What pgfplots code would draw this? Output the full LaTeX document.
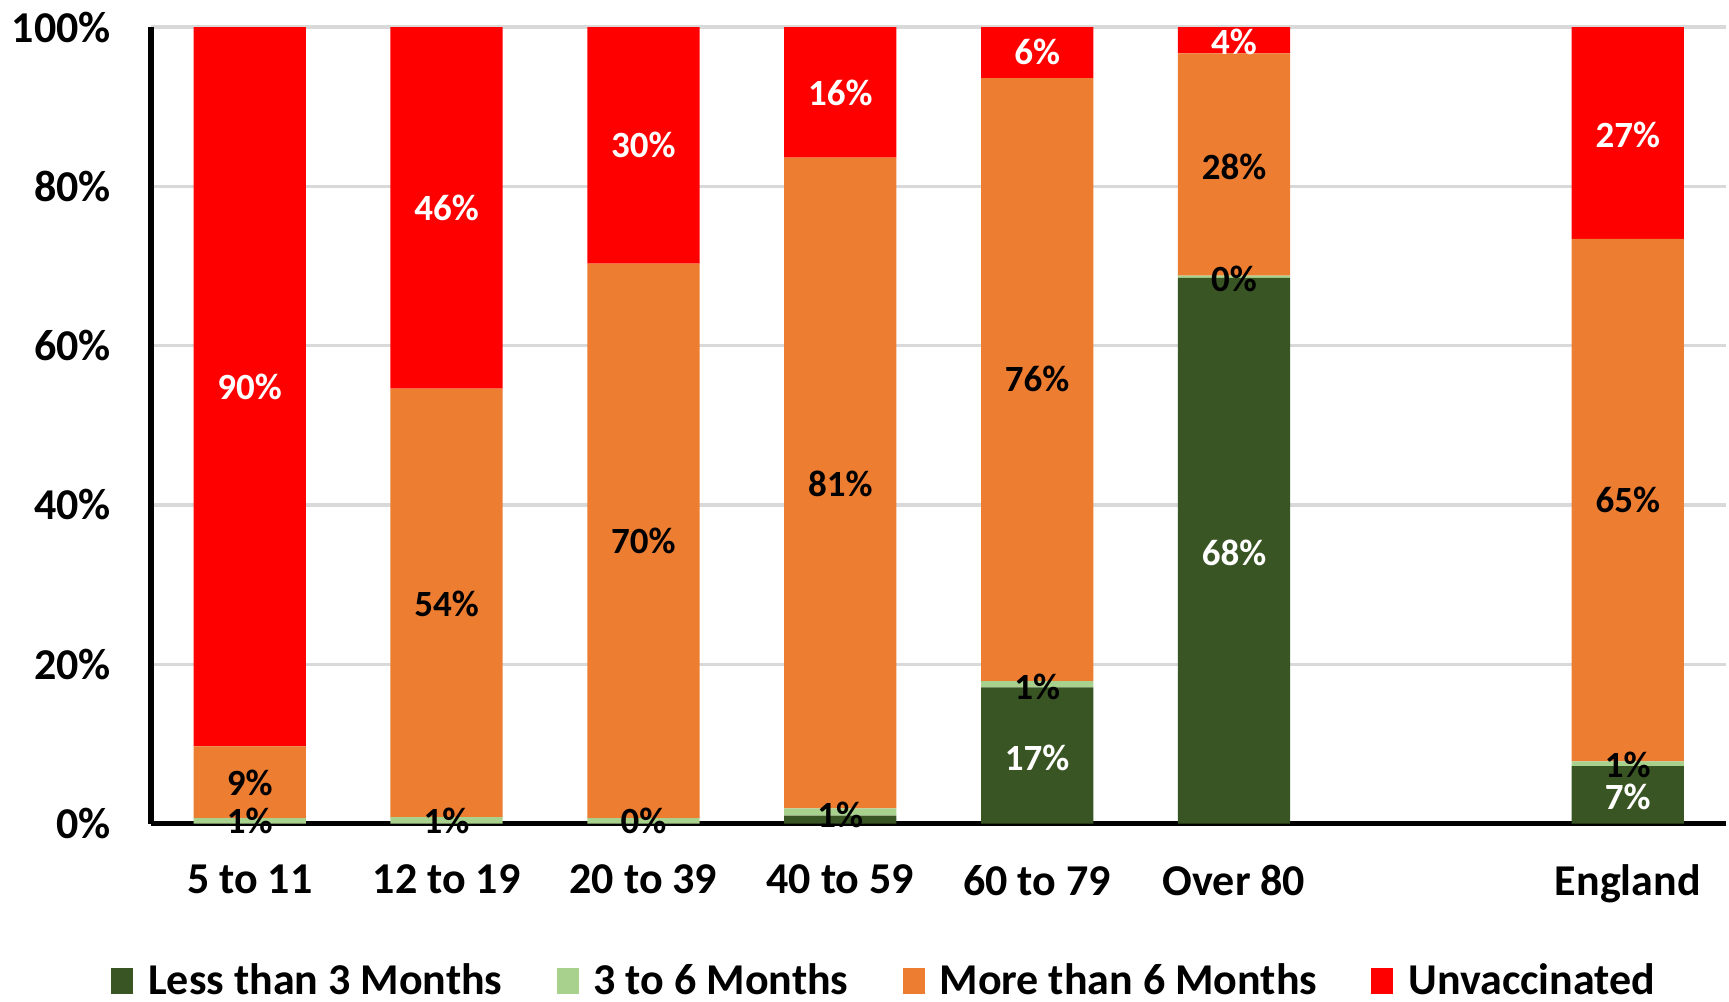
\documentclass[border=0pt]{standalone}
\usepackage{pgfplots}
\pgfplotsset{compat=1.18}
\usepackage{pgfplotstable}
\usepackage{fontspec}
\setmainfont{Carlito}
\definecolor{dg}{HTML}{3A5524}
\definecolor{lg}{HTML}{A9D18E}
\definecolor{or}{HTML}{ED7D31}
\definecolor{rd}{HTML}{FF0000}

% x: 0..5 age groups, 7 = England
\pgfplotstableread{
x y
0 0.0
1 0.0
2 0.0
3 1.0
4 17.1
5 68.5
7 7.2
}\dgdata
\pgfplotstableread{
x y
0 0.7
1 0.8
2 0.7
3 0.9
4 0.8
5 0.3
7 0.6
}\lgdata
\pgfplotstableread{
x y
0 9.0
1 53.8
2 69.6
3 81.7
4 75.7
5 27.9
7 65.6
}\ordata
\pgfplotstableread{
x y
0 90.3
1 45.4
2 29.7
3 16.4
4 6.4
5 3.3
7 26.6
}\rddata

\begin{document}
\begin{tikzpicture}
\pgfplotsset{
  common/.style={
    width=15.72cm, height=7.95cm, scale only axis,
    xmin=-0.5, xmax=7.5, ymin=0, ymax=100,
  }
}
\begin{axis}[common,
  ybar stacked, bar width=0.57,
  axis lines=left,
  axis line style={-, line width=1.6pt, black},
  xtick={0,1,2,3,4,5,7},
  xticklabels={5 to 11,12 to 19,20 to 39,40 to 59,60 to 79,Over 80,England},
  ytick={0,20,40,60,80,100},
  yticklabel={\pgfmathprintnumber{\tick}\%},
  /pgf/number format/assume math mode=true,
  major tick length=0pt,
  ymajorgrids, grid style={black!15, line width=0.9pt},
  tick label style={font=\fontsize{12.5}{15}\selectfont\bfseries},
  xticklabel style={yshift=-0.29cm},
  yticklabel style={xshift=-0.28cm},
  legend style={at={(0.467,-0.198)}, anchor=center, draw=none,
    inner sep=0pt, outer sep=0pt,
    nodes={inner ysep=0.5pt},
    legend columns=4, font=\fontsize{12.5}{15}\selectfont\bfseries,
    /tikz/every odd column/.append style={column sep=0.08cm},
    /tikz/every even column/.append style={column sep=0.47cm}},
  legend image code/.code={\fill[#1] (0cm,-0.13cm) rectangle (0.22cm,0.13cm);},
]
\addplot[fill=dg, draw=none] table[x=x,y=y]{\dgdata};
\addlegendentry{Less than 3 Months}
\addplot[fill=lg, draw=none] table[x=x,y=y]{\lgdata};
\addlegendentry{3 to 6 Months}
\addplot[fill=or, draw=none] table[x=x,y=y]{\ordata};
\addlegendentry{More than 6 Months}
\addplot[fill=rd, draw=none] table[x=x,y=y]{\rddata};
\addlegendentry{Unvaccinated}
\end{axis}
\begin{axis}[common, hide axis,
  nodes near coords, point meta=explicit symbolic,
  every node near coord/.style={anchor=center, inner sep=0pt,
    font=\fontsize{10.5}{12}\selectfont\bfseries},
]
\addplot[draw=none, mark=none, nodes near coords style={text=white}] table[meta=l]{
x y l
4 8.2 17\%
5 34.0 68\%
7 3.4 7\%
};
\addplot[draw=none, mark=none, nodes near coords style={text=black}] table[meta=l]{
x y l
0 0.3 1\%
1 0.3 1\%
2 0.3 0\%
3 1.1 1\%
4 17.2 1\%
5 68.4 0\%
7 7.4 1\%
};
\addplot[draw=none, mark=none, nodes near coords style={text=black}] table[meta=l]{
x y l
0 5.1 9\%
1 27.6 54\%
2 35.5 70\%
3 42.7 81\%
4 55.8 76\%
5 82.5 28\%
7 40.6 65\%
};
\addplot[draw=none, mark=none, nodes near coords style={text=white}] table[meta=l]{
x y l
0 54.8 90\%
1 77.3 46\%
2 85.2 30\%
3 91.7 16\%
4 96.9 6\%
5 98.1 4\%
7 86.5 27\%
};
\end{axis}
\end{tikzpicture}
\end{document}
